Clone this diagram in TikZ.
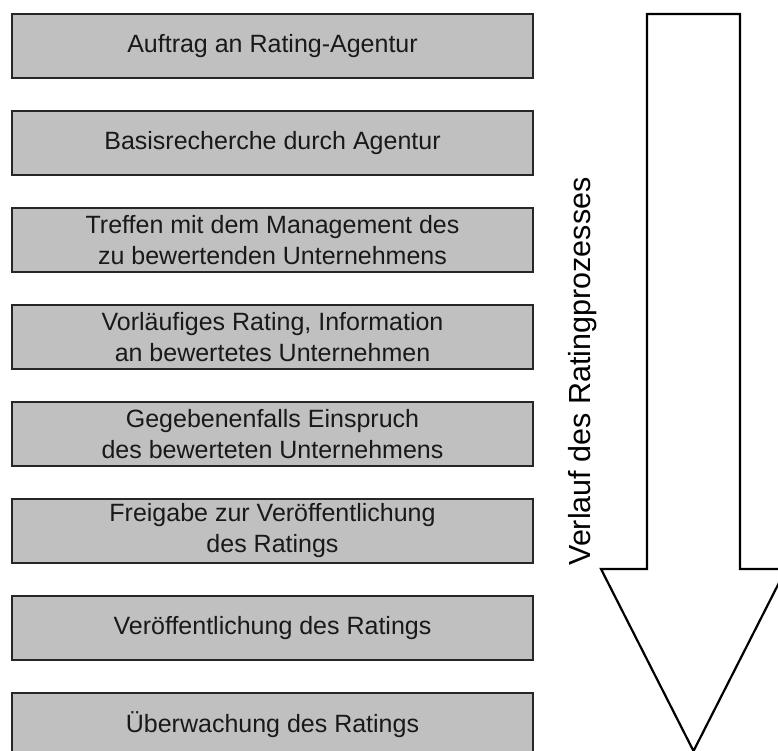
\documentclass[tikz,border=0pt]{standalone}
\usepackage{fontspec}
\setmainfont{Liberation Sans}
\begin{document}
\begin{tikzpicture}[x=1pt,y=-1pt,
  stepbox/.style={draw=black!85, line width=1.4pt, fill={rgb,255:red,192;green,192;blue,192},
    minimum width=521pt, minimum height=64pt, inner sep=0pt, align=center,
    font=\fontsize{25}{31}\selectfont, text=black!90},
  flowarrow/.style={draw=black, line width=2.2pt, fill=white, line join=miter}]
\useasboundingbox (0,0) rectangle (778,751);
\clip (0,0) rectangle (778,751);

% process steps
\node[stepbox] (b1) at (272.5,46)  {Auftrag an Rating-Agentur};
\node[stepbox] (b2) at (272.5,143) {Basisrecherche durch Agentur};
\node[stepbox] (b3) at (272.5,240) {Treffen mit dem Management des\\zu bewertenden Unternehmens};
\node[stepbox] (b4) at (272.5,337) {Vorläufiges Rating, Information\\an bewertetes Unternehmen};
\node[stepbox] (b5) at (272.5,434) {Gegebenenfalls Einspruch\\des bewerteten Unternehmens};
\node[stepbox] (b6) at (272.5,531) {Freigabe zur Veröffentlichung\\des Ratings};
\node[stepbox] (b7) at (272.5,628) {Veröffentlichung des Ratings};
\node[stepbox] (b8) at (272.5,725) {Überwachung des Ratings};

% large downward arrow
\draw[flowarrow] (647,14) -- (740,14) -- (740,569) -- (786,569)
  -- (693.5,751) -- (601,569) -- (647,569) -- cycle;

% arrow caption
\node[rotate=90, anchor=base, inner sep=0pt, font=\fontsize{30.5}{36}\selectfont]
  (verlauf) at (590,371.5) {Verlauf des Ratingprozesses};
\end{tikzpicture}
\end{document}
